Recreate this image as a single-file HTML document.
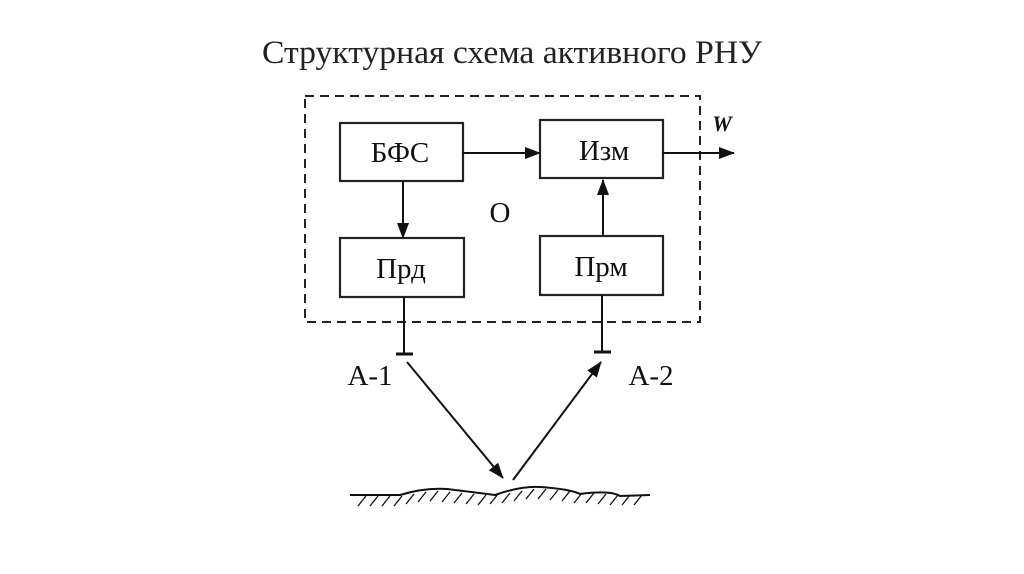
<!DOCTYPE html>
<html><head><meta charset="utf-8"><style>
html,body{margin:0;padding:0;background:#fff;width:1024px;height:574px;overflow:hidden}
</style></head><body>
<svg width="1024" height="574" viewBox="0 0 1024 574" xmlns="http://www.w3.org/2000/svg" font-family="Liberation Serif, serif">
<defs><marker id="b" markerWidth="16" markerHeight="12" refX="15" refY="6" orient="auto" markerUnits="userSpaceOnUse"><path d="M0,0 L16,6 L0,12z" fill="#111"/></marker></defs>
<text x="512" y="63" font-size="33" text-anchor="middle" fill="#222" textLength="500" lengthAdjust="spacingAndGlyphs">Структурная схема активного РНУ</text>
<rect x="305" y="96" width="395" height="226" fill="none" stroke="#222" stroke-width="2" stroke-dasharray="9,6"/>
<g fill="none" stroke="#222" stroke-width="2.2">
<rect x="340" y="123" width="123" height="58"/>
<rect x="540" y="120" width="123" height="58"/>
<rect x="340" y="238" width="124" height="59"/>
<rect x="540" y="236" width="123" height="59"/>
</g>
<g font-size="29" text-anchor="middle" fill="#111">
<text x="400" y="162">БФС</text><text x="604" y="160">Изм</text>
<text x="401" y="278">Прд</text><text x="601" y="276">Прм</text>
<text x="500" y="222">О</text>
<text x="370" y="385">А-1</text><text x="651" y="385">А-2</text>
</g>
<text x="722" y="131" font-size="22" font-style="italic" font-weight="bold" text-anchor="middle" fill="#111">W</text>
<g stroke="#111" stroke-width="2" fill="none">
<line x1="463" y1="153" x2="540" y2="153" marker-end="url(#b)"/>
<line x1="663" y1="153" x2="734" y2="153" marker-end="url(#b)"/>
<line x1="403" y1="181" x2="403" y2="238" marker-end="url(#b)"/>
<line x1="603" y1="236" x2="603" y2="180" marker-end="url(#b)"/>
<line x1="404" y1="297" x2="404" y2="354"/>
<line x1="396" y1="354" x2="413" y2="354" stroke-width="3"/>
<line x1="602" y1="295" x2="602" y2="352"/>
<line x1="594" y1="352" x2="611" y2="352" stroke-width="3"/>
<line x1="407" y1="362" x2="503" y2="478" marker-end="url(#b)"/>
<line x1="513" y1="480" x2="601" y2="362" marker-end="url(#b)"/>
<path d="M350,495 L400,495 Q430,486 455,490 Q480,493 495,495 Q520,486 540,487 Q570,489 580,494 Q610,490 620,496 L650,495"/>
</g>
<g stroke="#111" stroke-width="1.3">
<path d="M358,506l8,-10M370,506l8,-10M382,506l8,-10M394,506l8,-10M406,504l8,-10M418,502l8,-10M430,501l8,-10M442,502l8,-10M454,503l8,-10M466,504l8,-10M478,505l8,-10M490,504l8,-10M502,503l8,-10M514,501l8,-10M526,499l8,-10M538,499l8,-10M550,500l8,-10M562,501l8,-10M574,503l8,-10M586,503l8,-10M598,504l8,-10M610,505l8,-10M622,505l8,-10M634,505l8,-10"/>
</g>
</svg>
</body></html>
